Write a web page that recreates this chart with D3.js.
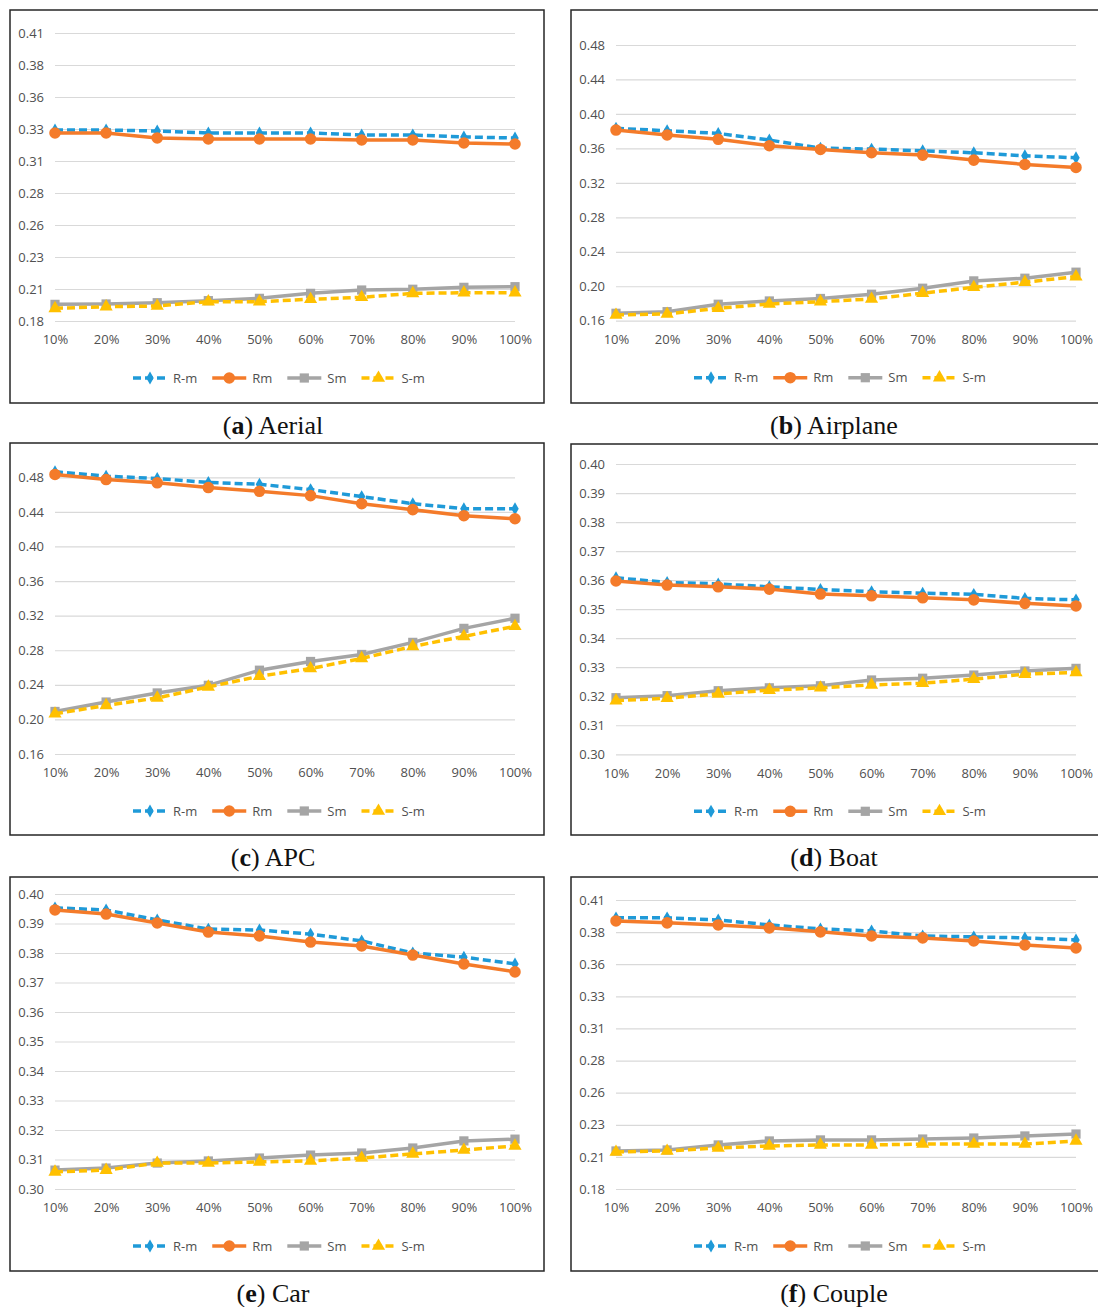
<!DOCTYPE html>
<html>
<head>
<meta charset="utf-8">
<script src="https://cdn.jsdelivr.net/npm/d3@7"></script>
<style>
  body { margin:0; background:#fff; }
  svg { display:block; }
</style>
</head>
<body>
<div id="graph"></div>
<script>
// x categories, same for every panel
var categories = ["10%","20%","30%","40%","50%","60%","70%","80%","90%","100%"];
var seriesNames = ["R-m","Rm","Sm","S-m"];

// y tick labels (Excel rounds them to 2 decimals)
var ticksA = ["0.18","0.21","0.23","0.26","0.28","0.31","0.33","0.36","0.38","0.41"];
var ticksB = ["0.16","0.20","0.24","0.28","0.32","0.36","0.40","0.44","0.48"];
var ticksD = ["0.30","0.31","0.32","0.33","0.34","0.35","0.36","0.37","0.38","0.39","0.40"];

// (a) Aerial
var aerialRmDash = [0.3292,0.3292,0.3284,0.3269,0.3269,0.3269,0.3253,0.3253,0.3238,0.3230];
var aerialRm     = [0.3269,0.3269,0.3230,0.3222,0.3222,0.3222,0.3214,0.3214,0.3191,0.3183];
var aerialSm     = [0.1930,0.1933,0.1943,0.1959,0.1977,0.2016,0.2042,0.2048,0.2063,0.2068];
var aerialSmDash = [0.1899,0.1912,0.1917,0.1951,0.1951,0.1970,0.1985,0.2016,0.2021,0.2021];
// (b) Airplane
var airplaneRmDash = [0.3833,0.3805,0.3774,0.3697,0.3603,0.3592,0.3572,0.3549,0.3514,0.3491];
var airplaneRm     = [0.3813,0.3755,0.3705,0.3631,0.3588,0.3549,0.3522,0.3464,0.3414,0.3379];
var airplaneSm     = [0.1686,0.1705,0.1791,0.1829,0.1858,0.1907,0.1977,0.2062,0.2093,0.2163];
var airplaneSmDash = [0.1666,0.1678,0.1744,0.1794,0.1821,0.1852,0.1919,0.1988,0.2047,0.2112];
// (c) APC
var apcRmDash = [0.4864,0.4813,0.4786,0.4740,0.4720,0.4658,0.4577,0.4495,0.4437,0.4437];
var apcRm     = [0.4833,0.4774,0.4736,0.4681,0.4638,0.4588,0.4495,0.4426,0.4356,0.4321];
var apcSm     = [0.2092,0.2201,0.2306,0.2394,0.2569,0.2670,0.2751,0.2891,0.3053,0.3170];
var apcSmDash = [0.2065,0.2162,0.2248,0.2376,0.2499,0.2588,0.2705,0.2844,0.2960,0.3077];
// (d) Boat
var boatRmDash = [0.3608,0.3592,0.3587,0.3577,0.3568,0.3560,0.3555,0.3551,0.3537,0.3532];
var boatRm     = [0.3597,0.3583,0.3577,0.3569,0.3552,0.3546,0.3539,0.3532,0.3520,0.3511];
var boatSm     = [0.3195,0.3202,0.3219,0.3229,0.3236,0.3256,0.3262,0.3273,0.3287,0.3296];
var boatSmDash = [0.3185,0.3193,0.3208,0.3221,0.3229,0.3239,0.3245,0.3259,0.3276,0.3282];
// (e) Car
var carRmDash = [0.3953,0.3946,0.3912,0.3881,0.3878,0.3864,0.3841,0.3800,0.3786,0.3763];
var carRm     = [0.3946,0.3932,0.3902,0.3871,0.3858,0.3837,0.3824,0.3793,0.3763,0.3736];
var carSm     = [0.3064,0.3071,0.3088,0.3095,0.3105,0.3115,0.3122,0.3139,0.3163,0.3169];
var carSmDash = [0.3058,0.3064,0.3088,0.3088,0.3092,0.3095,0.3105,0.3119,0.3132,0.3146];
// (f) Couple
var coupleRmDash = [0.3911,0.3911,0.3895,0.3856,0.3825,0.3809,0.3770,0.3763,0.3755,0.3739];
var coupleRm     = [0.3887,0.3872,0.3856,0.3833,0.3802,0.3770,0.3755,0.3731,0.3700,0.3677];
var coupleSm     = [0.2096,0.2104,0.2143,0.2174,0.2182,0.2182,0.2189,0.2197,0.2213,0.2228];
var coupleSmDash = [0.2088,0.2096,0.2119,0.2135,0.2143,0.2143,0.2150,0.2150,0.2150,0.2174];

// styles per series: R-m, Rm, Sm, S-m
var styles = [
    {color:"#1f9ad8", dash:"8,4", symbol:d3.symbolDiamond, size:48},
    {color:"#f47b2a", dash:null,  symbol:d3.symbolCircle,  size:105},
    {color:"#a5a5a5", dash:null,  symbol:d3.symbolSquare,  size:85},
    {color:"#ffc000", dash:"8,4", symbol:d3.symbolTriangle,size:75}
];

// panel boxes (page px) and where the first/last gridline sits inside them
var panels = [
    {letter:"a", name:"Aerial",   left:10,  top:10,  w:534, h:393, yDomain:[0.18,0.405], yRange:[311,23],   ticks:ticksA,
     series:[aerialRmDash,aerialRm,aerialSm,aerialSmDash]},
    {letter:"b", name:"Airplane", left:571, top:10,  w:530, h:393, yDomain:[0.16,0.48],  yRange:[310.7,35], ticks:ticksB,
     series:[airplaneRmDash,airplaneRm,airplaneSm,airplaneSmDash]},
    {letter:"c", name:"APC",      left:10,  top:443, w:534, h:392, yDomain:[0.16,0.48],  yRange:[311,34.3], ticks:ticksB,
     series:[apcRmDash,apcRm,apcSm,apcSmDash]},
    {letter:"d", name:"Boat",     left:571, top:444, w:530, h:391, yDomain:[0.30,0.40],  yRange:[310.3,20], ticks:ticksD,
     series:[boatRmDash,boatRm,boatSm,boatSmDash]},
    {letter:"e", name:"Car",      left:10,  top:877, w:534, h:394, yDomain:[0.30,0.40],  yRange:[312,17],   ticks:ticksD,
     series:[carRmDash,carRm,carSm,carSmDash]},
    {letter:"f", name:"Couple",   left:571, top:877, w:530, h:394, yDomain:[0.18,0.405], yRange:[312,23],   ticks:ticksA,
     series:[coupleRmDash,coupleRm,coupleSm,coupleSmDash]}
];

var svg = d3.select("#graph").append("svg")
    .attr("width",1098)
    .attr("height",1307);

var labelFont = "'Open Sans', sans-serif";

function drawPanel(p) {
    var g = svg.append("g").attr("transform","translate("+p.left+","+p.top+")");

    g.append("rect")
        .attr("x",0).attr("y",0)
        .attr("width",p.w).attr("height",p.h)
        .attr("fill","#fff")
        .attr("stroke","#262626")
        .attr("stroke-width",1.5);

    var x = d3.scalePoint().domain(categories).range([45,505]);
    var y = d3.scaleLinear().domain(p.yDomain).range(p.yRange);
    var step = (p.yDomain[1]-p.yDomain[0])/(p.ticks.length-1);
    var tickVals = p.ticks.map(function(d,i){ return p.yDomain[0]+i*step; });

    // gridlines + y labels through an axis
    var yAxis = g.append("g")
        .attr("transform","translate(45,0)")
        .call(d3.axisLeft(y).tickValues(tickVals).tickSize(-460)
            .tickFormat(function(d,i){ return p.ticks[i]; }));
    yAxis.select(".domain").remove();
    yAxis.selectAll("line").attr("stroke","#d9d9d9").attr("stroke-width",1.2);
    yAxis.selectAll("text")
        .attr("x",-11)
        .attr("fill","#505050")
        .style("font-family",labelFont)
        .style("font-size","13px");

    var xAxis = g.append("g")
        .attr("transform","translate(0,"+p.yRange[0]+")")
        .call(d3.axisBottom(x).tickSize(0).tickPadding(14));
    xAxis.select(".domain").remove();
    xAxis.selectAll("text")
        .attr("fill","#505050")
        .style("font-family",labelFont)
        .style("font-size","13px");

    var line = d3.line()
        .x(function(d,i){ return x(categories[i]); })
        .y(function(d){ return y(d); });

    p.series.forEach(function(vals,si){
        var st = styles[si];
        g.append("path")
            .datum(vals)
            .attr("d",line)
            .attr("fill","none")
            .attr("stroke",st.color)
            .attr("stroke-width",3.5)
            .attr("stroke-dasharray",st.dash);
        g.selectAll(".m"+si)
            .data(vals)
            .enter().append("path")
            .attr("transform",function(d,i){ return "translate("+x(categories[i])+","+y(d)+")"; })
            .attr("d",d3.symbol().type(st.symbol).size(st.size))
            .attr("fill",st.color);
    });

    // legend
    var leg = g.append("g").attr("transform","translate(123,"+(p.yRange[0]+57)+")");
    var lx = 0;
    seriesNames.forEach(function(name,si){
        var st = styles[si];
        leg.append("line")
            .attr("x1",lx).attr("x2",lx+34)
            .attr("y1",0).attr("y2",0)
            .attr("stroke",st.color)
            .attr("stroke-width",3.5)
            .attr("stroke-dasharray",st.dash);
        leg.append("path")
            .attr("transform","translate("+(lx+17)+",0)")
            .attr("d",d3.symbol().type(st.symbol).size(st.size))
            .attr("fill",st.color);
        var t = leg.append("text")
            .attr("x",lx+40).attr("y",4.5)
            .attr("fill","#505050")
            .style("font-family",labelFont)
            .style("font-size","13px")
            .text(name);
        lx += 40 + t.node().getComputedTextLength() + 15;
    });

    // caption under the box
    var cap = svg.append("text")
        .attr("x",p.left+263)
        .attr("y",p.top+p.h+31)
        .attr("text-anchor","middle")
        .style("font-family","'Liberation Serif', serif")
        .style("font-size","26px")
        .attr("fill","#111");
    cap.append("tspan").text("(");
    cap.append("tspan").style("font-weight","bold").text(p.letter);
    cap.append("tspan").text(") "+p.name);
}

panels.forEach(drawPanel);
</script>
</body>
</html>
